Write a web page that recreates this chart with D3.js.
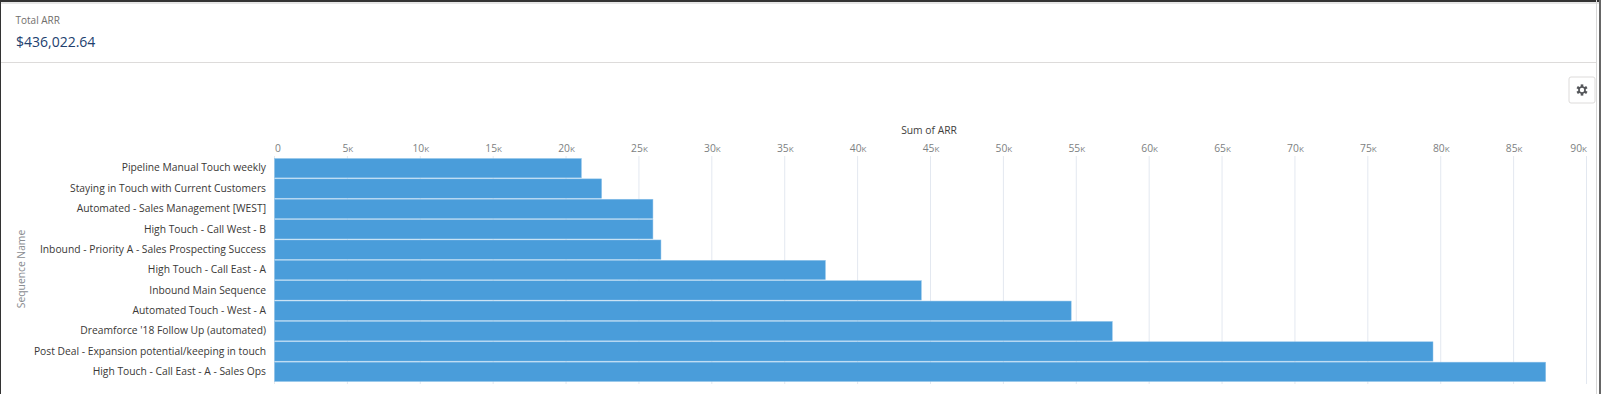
<!DOCTYPE html>
<html>
<head>
<meta charset="utf-8">
<script src="https://cdn.jsdelivr.net/npm/d3@7"></script>
<style>
  html, body { margin: 0; padding: 0; background: #fff; overflow: hidden; }
  text { font-family: "Open Sans", sans-serif; }
</style>
</head>
<body>
<div id="chart"></div>
<script>
const sequences = [
  'Pipeline Manual Touch weekly',
  'Staying in Touch with Current Customers',
  'Automated - Sales Management [WEST]',
  'High Touch - Call West - B',
  'Inbound - Priority A - Sales Prospecting Success',
  'High Touch - Call East - A',
  'Inbound Main Sequence',
  'Automated Touch - West - A',
  "Dreamforce '18 Follow Up (automated)",
  'Post Deal - Expansion potential/keeping in touch',
  'High Touch - Call East - A - Sales Ops'
];
const arr = [21050, 22440, 25960, 25960, 26510, 37790, 44370, 54650, 57470, 79470, 87200];
const ticks = [0, 5000, 10000, 15000, 20000, 25000, 30000, 35000, 40000, 45000, 50000, 55000, 60000, 65000, 70000, 75000, 80000, 85000, 90000];

const W = 1601, H = 394;
const svg = d3.select('#chart').append('svg').attr('width', W).attr('height', H);

// page frame around the dashboard tile
svg.append('rect').attr('x', 0).attr('y', 0).attr('width', W).attr('height', 2).attr('fill', '#333');
svg.append('rect').attr('x', 0).attr('y', 2).attr('width', W).attr('height', 2).attr('fill', '#e6e6e6');
svg.append('rect').attr('x', 0).attr('y', 0).attr('width', 1).attr('height', H).attr('fill', '#333');
svg.append('rect').attr('x', 1596).attr('y', 0).attr('width', 1).attr('height', H).attr('fill', '#d8d8d8');
svg.append('rect').attr('x', 1599).attr('y', 0).attr('width', 2).attr('height', H).attr('fill', '#666');
svg.append('rect').attr('x', 1).attr('y', 62).attr('width', 1595).attr('height', 1).attr('fill', '#dddbda');

// header metric
svg.append('text').attr('x', 15.5).attr('y', 24).attr('font-size', 10).attr('fill', '#706e6b').text('Total ARR');
svg.append('text').attr('x', 16).attr('y', 46.5).attr('font-size', 14).attr('fill', '#21406e').text('$436,022.64');

// settings button, gear built from rotated teeth
const gear = svg.append('g').attr('transform', 'translate(1582,90)');
gear.append('rect').attr('x', -13).attr('y', -13).attr('width', 26).attr('height', 26).attr('rx', 2)
  .attr('fill', '#fff').attr('stroke', '#dddbda');
gear.selectAll('rect.tooth').data(d3.range(6)).enter().append('rect').attr('class', 'tooth')
  .attr('x', -1.3).attr('y', -5.6).attr('width', 2.6).attr('height', 3)
  .attr('transform', d => `rotate(${d * 60})`).attr('fill', '#54565a');
gear.append('circle').attr('r', 3).attr('fill', '#fff').attr('stroke', '#54565a').attr('stroke-width', 1.6);

const x = d3.scaleLinear().domain([0, 90000]).range([274.5, 1586.5]);
const y = d3.scaleBand().domain(sequences).range([158.5, 381.5]).paddingInner(0.05).paddingOuter(0);

// vertical grid lines run behind the bars, a little past both ends
svg.append('g').selectAll('line').data(ticks).enter().append('line')
  .attr('x1', d => x(d)).attr('x2', d => x(d))
  .attr('y1', 156).attr('y2', 384)
  .attr('stroke', '#e3e8f0');

const xAxis = svg.append('g').attr('transform', 'translate(0,152)')
  .call(d3.axisTop(x).tickValues(ticks).tickSize(0).tickPadding(0).tickFormat(d => d === 0 ? '0' : String(d / 1000)));
xAxis.select('.domain').remove();
xAxis.selectAll('text').attr('font-size', 10.3).attr('fill', '#7d7f82')
  .style('font-family', '"Open Sans", sans-serif');
// the K suffix is set small, like small caps in the original
xAxis.selectAll('text').filter(d => d > 0).append('tspan').attr('font-size', 8).text('K');
// first and last labels are pulled inside the plot
xAxis.selectAll('text').filter(d => d === 0).attr('text-anchor', 'start');
xAxis.selectAll('text').filter(d => d === 90000).attr('text-anchor', 'end');

svg.append('text').attr('x', 929).attr('y', 134).attr('text-anchor', 'middle')
  .attr('font-size', 10.3).attr('fill', '#3e3e3c').text('Sum of ARR');

svg.append('g').selectAll('rect').data(sequences).enter().append('rect')
  .attr('x', x(0))
  .attr('y', d => y(d))
  .attr('width', (d, i) => x(arr[i]) - x(0))
  .attr('height', y.bandwidth())
  .attr('fill', '#4a9dda')
  .attr('stroke', '#8fc3ea')
  .attr('stroke-width', 0.5);

const yAxis = svg.append('g').attr('transform', 'translate(270,0)')
  .call(d3.axisLeft(y).tickSize(0).tickPadding(4));
yAxis.select('.domain').remove();
yAxis.selectAll('text').attr('font-size', 10.3).attr('fill', '#3a3836')
  .style('font-family', '"Open Sans", sans-serif');

svg.append('text').attr('transform', 'translate(25,269) rotate(-90)').attr('text-anchor', 'middle')
  .attr('font-size', 10.3).attr('fill', '#8a8d91').text('Sequence Name');
</script>
</body>
</html>
